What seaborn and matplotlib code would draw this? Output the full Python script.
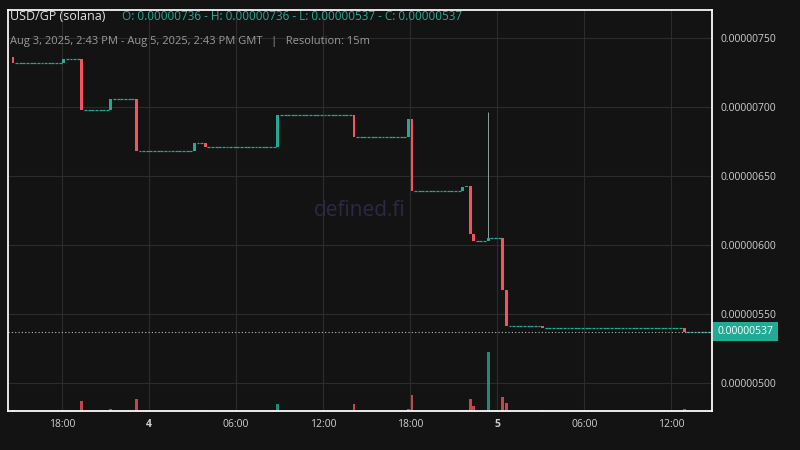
import matplotlib
matplotlib.use("Agg")
import matplotlib.pyplot as plt
import seaborn as sns
import numpy as np

# hours since Aug 3 00:00 (15-min candles), open, close, high, volume for traded candles
ev_time  = [14.5, 18.0, 19.25, 21.25, 23.0, 27.0, 27.75, 32.75, 38.0, 41.75, 42.0, 45.5, 45.75, 46.0, 46.25, 47.25, 48.25, 48.5, 51.0, 60.75]
ev_open  = [736, 732, 735, 698, 706, 668, 674, 671, 694, 678, 691, 639, 642, 643, 608, 603, 605, 567, 541, 540]
ev_close = [732, 735, 698, 706, 668, 674, 671, 694, 678, 691, 639, 642, 643, 608, 603, 605, 567, 541, 540, 537]
ev_high  = [736, 735, 735, 706, 706, 674, 674, 694, 694, 691, 691, 642, 643, 643, 608, 696, 605, 567, 541, 540]
ev_vol   = [1, 0.5, 10, 2, 12, 1, 1, 7, 7, 2, 16, 1, 1, 12, 5, 60, 14, 8, 1, 2]
start_h, end_h = 14.5, 62.5
yticks = [500, 550, 600, 650, 700, 750]
xtick_pos = [18, 24, 30, 36, 42, 48, 54, 60]
xtick_lab = ["18:00", "4", "06:00", "12:00", "18:00", "5", "06:00", "12:00"]
last_price = 537

GREEN, RED, BG = "#22ab94", "#f7525f", "#131313"
sns.set_theme(style="dark", rc={"axes.facecolor": BG, "figure.facecolor": BG})
plt.rcParams['font.family'] = ['Open Sans', 'DejaVu Sans']

times = np.arange(start_h, end_h + 0.01, 0.25)
ev = {round(t * 4): i for i, t in enumerate(ev_time)}
O, C, H, L, V = [], [], [], [], []
prev = ev_open[0]
for t in times:
    k = round(t * 4)
    if k in ev:
        i = ev[k]
        o, c, h, v = ev_open[i], ev_close[i], ev_high[i], ev_vol[i]
    else:
        o = c = h = prev; v = 0.15
    O.append(o); C.append(c); H.append(max(h, o, c)); L.append(min(o, c)); V.append(v)
    prev = c

fig = plt.figure(figsize=(8, 4.5), dpi=100)
ax = fig.add_axes([0.01, 0.087, 0.88, 0.891])
ax.set_xlim(14.28, 62.8)
ax.set_ylim(479.7, 770.3)
w = 0.25 * 0.8
for t, o, c, h, l in zip(times, O, C, H, L):
    col = GREEN if c >= o else RED
    xc = t + 0.125
    if h > max(o, c):
        ax.vlines(xc, max(o, c), h, color="#9fb8b4", lw=0.6, zorder=3)
    if o == c:
        ax.hlines(o, xc - w / 2, xc + w / 2, color=col, lw=0.9, zorder=3)
    else:
        ax.bar(xc, abs(c - o), w, bottom=min(o, c), color=col, zorder=3, linewidth=0)

vax = ax.twinx()
vax.set_ylim(0, 410)
vcol = [GREEN if c >= o else RED for o, c in zip(O, C)]
vax.bar(times + 0.125, V, w, color=vcol, alpha=0.8, linewidth=0)
vax.set_yticks([]); vax.grid(False)

ax.yaxis.tick_right()
ax.set_yticks(yticks)
ax.set_yticklabels([f"{v * 1e-8:.8f}" for v in yticks], color="#cfcfcf", fontsize=7.5)
ax.set_xticks(xtick_pos)
ax.set_xticklabels(xtick_lab, color="#cfcfcf", fontsize=7.5)
for lab in ax.get_xticklabels():
    if lab.get_text() in ("4", "5"):
        lab.set_fontweight("bold")
ax.tick_params(length=0, pad=6)
ax.grid(True, color="#2c2c2c", lw=0.8)
for s in ["top", "left"]:
    ax.spines[s].set_visible(False)
ax.spines["right"].set_color("#444444")
ax.spines["bottom"].set_color("#444444")

ax.axhline(last_price, color="#bbbbbb", lw=0.8, ls=(0, (1, 2)), zorder=4)
ax.text(1.008, (last_price - 479.7) / (770.3 - 479.7), f"{last_price * 1e-8:.8f}", transform=ax.transAxes,
        va="center", ha="left", fontsize=7.5, color="white",
        bbox=dict(boxstyle="square,pad=0.4", fc=GREEN, ec="none"))

ax.text(0.5, 0.5, "defined.fi", transform=ax.transAxes, ha="center", va="center",
        fontsize=15, color="#2a2a44", zorder=1)

fig.text(0.012, 0.955, "USD/GP (solana)", color="#e0e0e0", fontsize=9)
fig.text(0.152, 0.955, "O: 0.00000736 - H: 0.00000736 - L: 0.00000537 - C: 0.00000537", color=GREEN, fontsize=8.5)
fig.text(0.012, 0.903, "Aug 3, 2025, 2:43 PM - Aug 5, 2025, 2:43 PM GMT   |   Resolution: 15m", color="#9a9a9a", fontsize=8)

fig.savefig("out.png", dpi=100, facecolor=BG)
